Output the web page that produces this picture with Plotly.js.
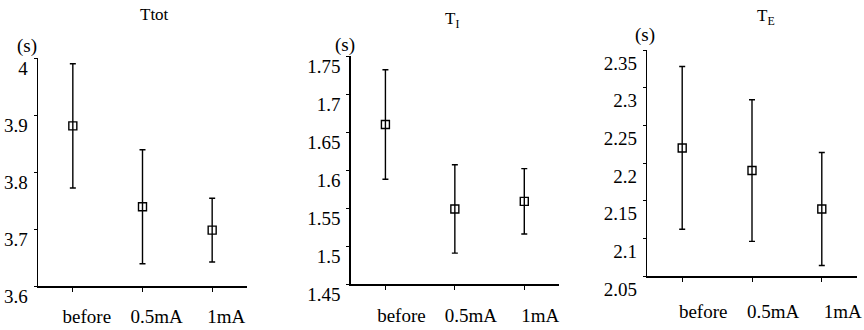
<!DOCTYPE html>
<html>
<head>
<meta charset="utf-8">
<script src="https://cdn.plot.ly/plotly-3.0.1.min.js"></script>
<style>html,body{margin:0;padding:0;background:#fff}#chart{width:864px;height:330px}</style>
</head>
<body>
<div id="chart"></div>
<script>
const categories = ['before', '0.5mA', '1mA'];
const ttotMean = [3.881, 3.739, 3.698];
const ttotErr = [0.109, 0.100, 0.056];
const tiMean = [1.660, 1.549, 1.559];
const tiErr = [0.072, 0.058, 0.043];
const teMean = [2.220, 2.190, 2.139];
const teErr = [0.108, 0.094, 0.075];
const panelTitles = ['Ttot', 'T<sub>I</sub>', 'T<sub>E</sub>'];
const unitLabel = '(s)';
const ttotTicks = [3.6, 3.7, 3.8, 3.9, 4];
const tiTicks = [1.45, 1.5, 1.55, 1.6, 1.65, 1.7, 1.75];
const teTicks = [2.05, 2.1, 2.15, 2.2, 2.25, 2.3, 2.35];

const FONT = 'Liberation Serif, Times New Roman, serif';

function trace(mean, err, n) {
  return {
    type: 'scatter', mode: 'markers',
    x: categories, y: mean,
    xaxis: n === 1 ? 'x' : 'x' + n,
    yaxis: n === 1 ? 'y' : 'y' + n,
    marker: {symbol: 'square-open', size: 8, color: '#000', line: {width: 1.4, color: '#000'}},
    error_y: {type: 'data', array: err, visible: true, color: '#000', thickness: 1.4, width: 3},
    showlegend: false, hoverinfo: 'skip'
  };
}

function xax(domain, shift, standoff) {
  return {
    domain: domain, type: 'category', range: [-0.5, 2.5],
    showline: true, linecolor: '#000', linewidth: 1.5,
    ticks: 'outside', ticklen: 4, tickcolor: '#000', tickwidth: 1,
    showgrid: false, zeroline: false, fixedrange: true,
    tickfont: {family: FONT, size: 19, color: '#000'},
    ticklabelshift: shift, ticklabelstandoff: standoff
  };
}
function yax(domain, range, tickvals, shift, anchor) {
  return {
    domain: domain, range: range, tickvals: tickvals, anchor: anchor,
    showline: true, linecolor: '#000', linewidth: 1.5,
    ticks: 'outside', ticklen: 3, tickcolor: '#000', tickwidth: 1,
    showgrid: false, zeroline: false, fixedrange: true,
    tickfont: {family: FONT, size: 19, color: '#000'},
    ticklabelshift: shift, ticklabelstandoff: 2
  };
}

const W = 864, H = 330;
const layout = {
  width: W, height: H,
  margin: {l: 0, r: 0, t: 0, b: 0},
  paper_bgcolor: '#fff', plot_bgcolor: '#fff',
  xaxis: Object.assign(xax([38 / W, 247 / W], 14, 9), {anchor: 'y'}),
  yaxis: yax([(H - 286) / H, (H - 58) / H], [3.6, 4.0], ttotTicks, 10, 'x'),
  xaxis2: Object.assign(xax([350.7 / W, 559 / W], 16, 9), {anchor: 'y2'}),
  yaxis2: yax([(H - 284.3) / H, (H - 56) / H], [1.45, 1.75], tiTicks, 10, 'x2'),
  xaxis3: Object.assign(xax([647.3 / W, 856.7 / W], 21, 14), {anchor: 'y3'}),
  yaxis3: yax([(H - 276) / H, (H - 50) / H], [2.05, 2.35], teTicks, 13, 'x3'),
  annotations: [
    {text: panelTitles[0], x: 154 / W, y: 1 - 15 / H, font: {family: FONT, size: 17, color: '#000'}},
    {text: panelTitles[1], x: 452 / W, y: 1 - 20 / H, font: {family: FONT, size: 17, color: '#000'}},
    {text: panelTitles[2], x: 766 / W, y: 1 - 17 / H, font: {family: FONT, size: 17, color: '#000'}},
    {text: unitLabel, x: 27 / W, y: 1 - 46 / H},
    {text: unitLabel, x: 345 / W, y: 1 - 45 / H},
    {text: unitLabel, x: 645 / W, y: 1 - 35 / H}
  ].map(a => Object.assign({
    xref: 'paper', yref: 'paper', showarrow: false,
    xanchor: 'center', yanchor: 'middle',
    font: {family: FONT, size: 19, color: '#000'}
  }, a))
};

Plotly.newPlot('chart', [
  trace(ttotMean, ttotErr, 1),
  trace(tiMean, tiErr, 2),
  trace(teMean, teErr, 3)
], layout, {displayModeBar: false, staticPlot: true});
</script>
</body>
</html>
